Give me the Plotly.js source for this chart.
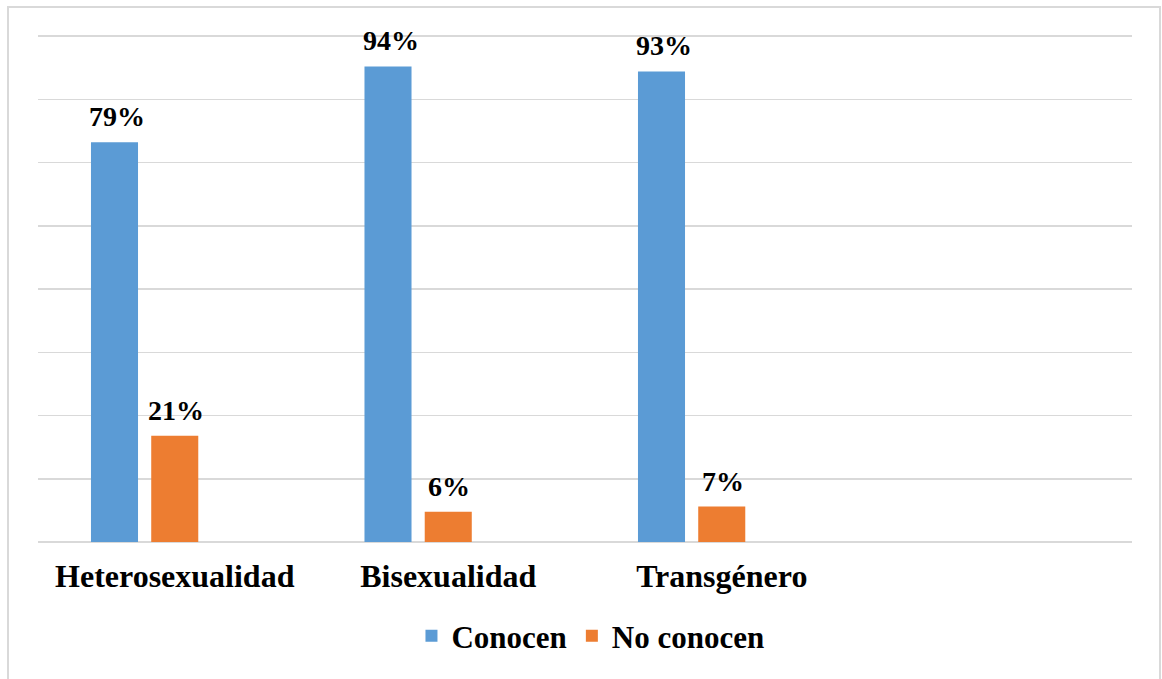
<!DOCTYPE html>
<html>
<head>
<meta charset="utf-8">
<script src="https://cdn.plot.ly/plotly-3.0.1.min.js"></script>
<style>
  html, body { margin: 0; padding: 0; background: #ffffff; overflow: hidden; }
  #chart { width: 1162px; height: 679px; position: absolute; left: 0; top: 0; }
  #frame { position: absolute; left: 7px; top: 6px; width: 1154px; height: 720px;
           border: 2px solid #D9D9D9; box-sizing: border-box; pointer-events: none; }
</style>
</head>
<body>
<div id="chart"></div>
<div id="frame"></div>
<script>
const categories = ["Heterosexualidad", "Bisexualidad", "Transgénero"];
const conocen = [0.79, 0.94, 0.93];
const noConocen = [0.21, 0.06, 0.07];
const seriesNames = ["Conocen", "No conocen"];
const colors = ["#5B9BD5", "#ED7D31"];

const serif = "Liberation Serif, Times New Roman, serif";
const barWidth = 0.172;
const slot = 0.2203;

function fmt(v) { return Math.round(v * 100) + "%"; }

const traces = [
  {
    type: "bar", name: seriesNames[0], x: categories, y: conocen,
    width: barWidth, offset: -slot - barWidth / 2,
    marker: { color: colors[0] }, hoverinfo: "skip"
  },
  {
    type: "bar", name: seriesNames[1], x: categories, y: noConocen,
    width: barWidth, offset: -barWidth / 2,
    marker: { color: colors[1] }, hoverinfo: "skip"
  }
];

const annotations = [];
const pxSlot = (1094 / 4) * slot;
[conocen, noConocen].forEach((vals, s) => {
  vals.forEach((v, i) => {
    annotations.push({
      x: categories[i], y: v, xref: "x", yref: "y",
      text: fmt(v), showarrow: false, yanchor: "bottom",
      xshift: s === 0 ? -pxSlot + 3 : 1, yshift: 8,
      font: { family: serif, size: 28, color: "#000000", weight: "bold" }
    });
  });
});

const layout = {
  width: 1162, height: 679,
  paper_bgcolor: "#ffffff", plot_bgcolor: "#ffffff",
  margin: { l: 38, r: 30, t: 34, b: 137 },
  barmode: "group",
  showlegend: true,
  legend: {
    orientation: "h", x: 0.505, xanchor: "center", y: -0.185, yanchor: "middle",
    font: { family: serif, size: 31, color: "#000000", weight: "bold" }
  },
  xaxis: {
    type: "category", range: [-0.5, 3.5],
    showgrid: false, zeroline: false, showline: false, ticks: "",
    tickfont: { family: serif, size: 32, color: "#000000", weight: "bold" },
    ticklabelstandoff: 12
  },
  yaxis: {
    range: [0, 1.004], dtick: 0.125, tick0: 0,
    showticklabels: false, ticks: "",
    showgrid: true, gridcolor: "#D9D9D9", gridwidth: 1.5,
    zeroline: true, zerolinecolor: "#D9D9D9", zerolinewidth: 2,
    showline: false
  },
  annotations: annotations
};

Plotly.newPlot("chart", traces, layout, { displayModeBar: false, staticPlot: true });
</script>
</body>
</html>
